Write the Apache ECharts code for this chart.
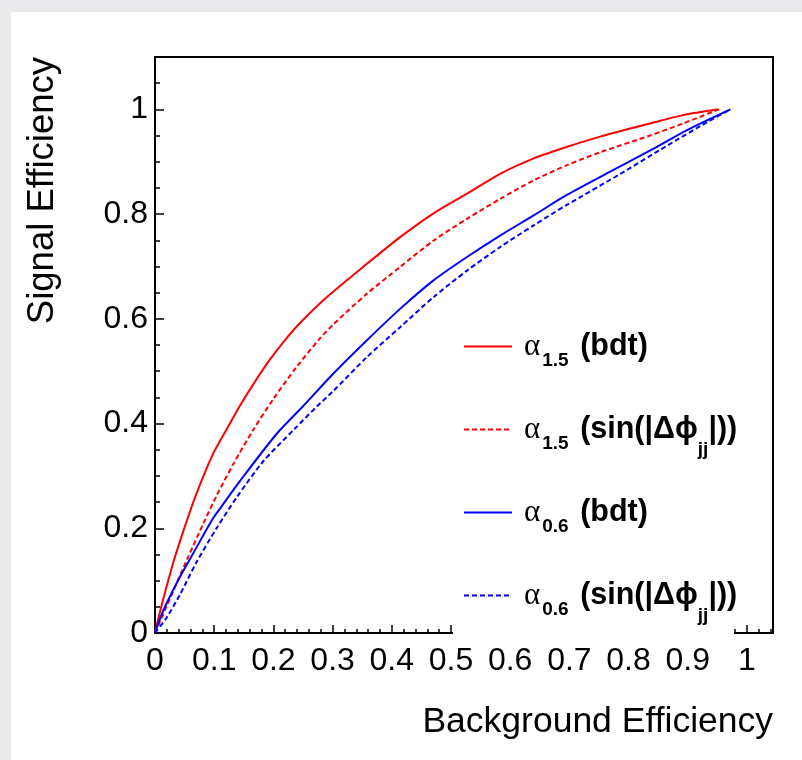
<!DOCTYPE html>
<html>
<head>
<meta charset="utf-8">
<script src="https://cdn.jsdelivr.net/npm/echarts@6/dist/echarts.min.js"></script>
<style>
  html, body { margin: 0; padding: 0; background: #ebebee; }
  #wrap { position: relative; width: 802px; height: 760px; background: #ebebee; overflow: hidden; }
  #panel { position: absolute; left: 11px; top: 12px; right: 0; bottom: 0; background: #ffffff; }
  #chart { position: absolute; left: 0; top: 0; width: 802px; height: 760px; }
</style>
</head>
<body>
<div id="wrap"><div id="panel"></div><div id="chart"></div></div>
<script>
// ---- axis ranges ----
const xMin = 0, xMax = 1.044, xMajor = 0.1, xMinor = 0.02;
const yMin = 0, yMax = 1.1, yMajor = 0.2, yMinor = 0.05;
const xTitle = 'Background Efficiency';
const yTitle = 'Signal Efficiency';

// ---- series names ----
const seriesNames = ['a15_bdt', 'a15_sin', 'a06_bdt', 'a06_sin'];

// ---- alpha 1.5 (bdt), red solid ----
const a15BdtX = [0, 0.005, 0.014, 0.031, 0.048, 0.068, 0.098, 0.124, 0.144, 0.17, 0.194, 0.22, 0.245, 0.29, 0.358, 0.414, 0.47, 0.527, 0.583, 0.639, 0.695, 0.752, 0.836, 0.892, 0.952];
const a15BdtY = [0, 0.025, 0.065, 0.135, 0.195, 0.26, 0.342, 0.395, 0.435, 0.482, 0.522, 0.56, 0.592, 0.641, 0.705, 0.756, 0.801, 0.839, 0.877, 0.906, 0.928, 0.948, 0.973, 0.989, 1.0];

// ---- alpha 1.5 (sin|dphi_jj|), red dashed ----
const a15SinX = [0, 0.025, 0.054, 0.082, 0.104, 0.132, 0.166, 0.2, 0.239, 0.279, 0.301, 0.358, 0.414, 0.47, 0.527, 0.583, 0.639, 0.695, 0.752, 0.836, 0.892, 0.952];
const a15SinY = [0, 0.065, 0.14, 0.21, 0.262, 0.322, 0.388, 0.447, 0.508, 0.563, 0.589, 0.648, 0.699, 0.749, 0.791, 0.829, 0.864, 0.893, 0.918, 0.95, 0.973, 1.0];

// ---- alpha 0.6 (bdt), blue solid ----
const a06BdtX = [0, 0.014, 0.042, 0.065, 0.098, 0.11, 0.144, 0.206, 0.25, 0.301, 0.358, 0.414, 0.47, 0.527, 0.583, 0.639, 0.695, 0.769, 0.836, 0.898, 0.972];
const a06BdtY = [0, 0.043, 0.107, 0.153, 0.219, 0.238, 0.291, 0.381, 0.433, 0.495, 0.559, 0.619, 0.673, 0.718, 0.759, 0.797, 0.836, 0.881, 0.921, 0.96, 1.0];

// ---- alpha 0.6 (sin|dphi_jj|), blue dashed ----
const a06SinX = [0, 0.02, 0.042, 0.07, 0.104, 0.138, 0.183, 0.236, 0.273, 0.301, 0.358, 0.414, 0.47, 0.527, 0.583, 0.639, 0.695, 0.785, 0.864, 0.932, 0.972];
const a06SinY = [0, 0.03, 0.073, 0.135, 0.2, 0.259, 0.328, 0.39, 0.432, 0.462, 0.527, 0.584, 0.641, 0.692, 0.737, 0.778, 0.817, 0.876, 0.93, 0.975, 1.0];

// ---- legend labels (rich text) ----
const legendLabels = {
  a15_bdt: '{a|α}{s|1.5}{m| (bdt)}',
  a15_sin: '{a|α}{s|1.5}{m| (sin(|Δϕ}{j|jj}{m||))}',
  a06_bdt: '{a|α}{s|0.6}{m| (bdt)}',
  a06_sin: '{a|α}{s|0.6}{m| (sin(|Δϕ}{j|jj}{m||))}'
};

const zip = (xs, ys) => xs.map((x, i) => [x, ys[i]]);
const FONT = '"Liberation Sans", Arial, Helvetica, sans-serif';
const RED = '#ff0000', BLUE = '#0000ff';

function lineSeries(name, xs, ys, color, dashed) {
  return {
    name: name, type: 'line', xAxisIndex: 0, yAxisIndex: 0,
    data: zip(xs, ys), symbol: 'none', showSymbol: false,
    smooth: 0.25,
    lineStyle: { color: color, width: 2, type: dashed ? [5, 3] : 'solid' },
    itemStyle: { color: color }, animation: false, z: 2
  };
}

const chart = echarts.init(document.getElementById('chart'), null, { renderer: 'canvas' });

const baseX = {
  type: 'value', min: xMin, max: xMax, position: 'bottom',
  splitLine: { show: false }, minorTick: { show: false }
};
const baseY = {
  type: 'value', min: yMin, max: yMax, position: 'left',
  splitLine: { show: false }, minorTick: { show: false }
};
const tickFmt = v => (Math.abs(v - Math.round(v)) < 1e-9 ? String(Math.round(v)) : v.toFixed(1));

const option = {
  backgroundColor: 'transparent',
  animation: false,
  textStyle: { fontFamily: FONT },
  grid: { left: 155, top: 57, right: 29, bottom: 127, show: true, borderColor: '#000', borderWidth: 2, backgroundColor: 'transparent' },
  xAxis: [
    Object.assign({}, baseX, {
      interval: xMajor,
      axisLine: { show: true, lineStyle: { color: '#000', width: 2 } },
      axisTick: { show: true, inside: true, length: 8, lineStyle: { color: '#000', width: 1.5 } },
      axisLabel: { show: true, fontSize: 32, color: '#000', margin: 12, fontFamily: FONT, showMaxLabel: false, showMinLabel: true, formatter: tickFmt }
    }),
    Object.assign({}, baseX, {
      interval: xMinor,
      axisLine: { show: false },
      axisTick: { show: true, inside: true, length: 4, lineStyle: { color: '#000', width: 1.5 } },
      axisLabel: { show: false }
    })
  ],
  yAxis: [
    Object.assign({}, baseY, {
      interval: yMajor,
      axisLine: { show: true, lineStyle: { color: '#000', width: 2 } },
      axisTick: { show: true, inside: true, length: 9, lineStyle: { color: '#000', width: 1.5 } },
      axisLabel: { show: true, fontSize: 32, color: '#000', margin: 7, fontFamily: FONT, showMaxLabel: false, showMinLabel: true, formatter: tickFmt }
    }),
    Object.assign({}, baseY, {
      interval: yMinor,
      axisLine: { show: false },
      axisTick: { show: true, inside: true, length: 5, lineStyle: { color: '#000', width: 1.5 } },
      axisLabel: { show: false }
    })
  ],
  legend: {
    orient: 'vertical', left: 463, top: 323, padding: 0, itemGap: 30,
    itemWidth: 48, itemHeight: 14, z: 5,
    data: seriesNames,
    selectedMode: false,
    itemStyle: { opacity: 0 },
    formatter: name => legendLabels[name],
    textStyle: {
      color: '#000', fontFamily: FONT, fontSize: 30.5, fontWeight: 'bold',
      rich: {
        a: { fontFamily: '"Liberation Serif", "DejaVu Serif", serif', fontSize: 31, fontWeight: 'normal', color: '#000', lineHeight: 30, padding: [0, 2, 0, 7] },
        s: { fontFamily: FONT, fontSize: 19, fontWeight: 'bold', color: '#000', lineHeight: 30, padding: [28, 3, 0, 0] },
        j: { fontFamily: FONT, fontSize: 19, fontWeight: 'bold', color: '#000', lineHeight: 30, padding: [40, 0, 0, 0] },
        m: { fontFamily: FONT, fontSize: 30.5, fontWeight: 'bold', color: '#000', lineHeight: 30 }
      }
    }
  },
  graphic: [
    { type: 'rect', z: 3, shape: { x: 453, y: 316, width: 281, height: 321 }, style: { fill: '#ffffff' }, silent: true },
    { type: 'text', z: 3, x: 773, y: 722, silent: true,
      style: { text: xTitle, font: '35.5px ' + FONT, fill: '#000', textAlign: 'right', textVerticalAlign: 'middle' } },
    { type: 'text', z: 3, x: 43, y: 57, rotation: Math.PI / 2, silent: true,
      style: { text: yTitle, font: '36.5px ' + FONT, fill: '#000', textAlign: 'right', textVerticalAlign: 'middle' } }
  ],
  series: [
    lineSeries(seriesNames[0], a15BdtX, a15BdtY, RED, false),
    lineSeries(seriesNames[1], a15SinX, a15SinY, RED, true),
    lineSeries(seriesNames[2], a06BdtX, a06BdtY, BLUE, false),
    lineSeries(seriesNames[3], a06SinX, a06SinY, BLUE, true)
  ]
};
chart.setOption(option);
</script>
</body>
</html>
